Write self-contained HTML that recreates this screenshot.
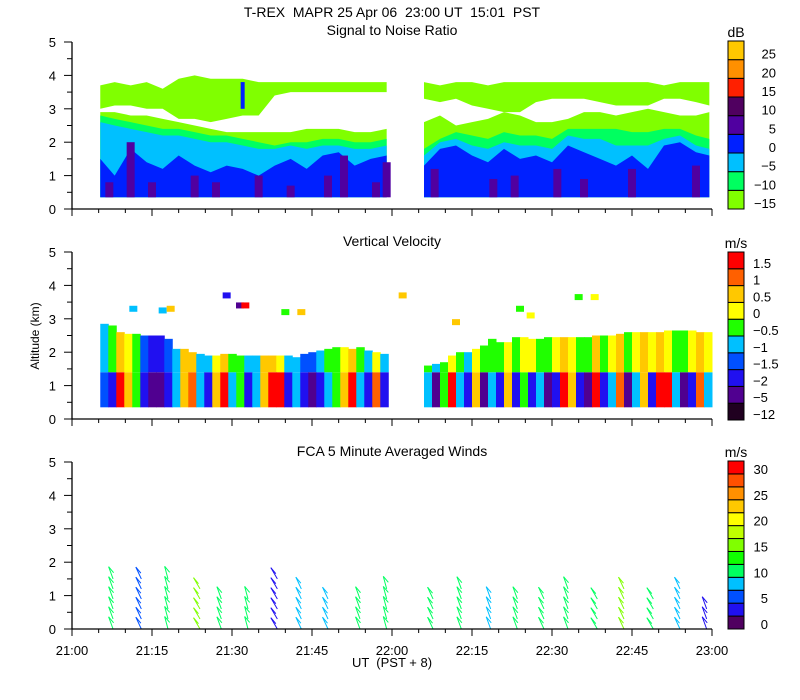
<!DOCTYPE html>
<html><head><meta charset="utf-8"><style>
html,body{margin:0;padding:0;background:#fff;}
svg{display:block;font-family:"Liberation Sans",sans-serif;}
text{fill:#000;white-space:pre;}
</style></head><body>
<svg id="chart" width="800" height="700" viewBox="0 0 800 700" xmlns="http://www.w3.org/2000/svg">
<rect width="800" height="700" fill="#fff"/>
<text x="392" y="17" font-size="14" text-anchor="middle" xml:space="preserve">T-REX  MAPR 25 Apr 06  23:00 UT  15:01  PST</text>
<text x="392" y="35" font-size="14" text-anchor="middle">Signal to Noise Ratio</text>
<text x="392" y="246" font-size="14" text-anchor="middle">Vertical Velocity</text>
<text x="392" y="456" font-size="14" text-anchor="middle">FCA 5 Minute Averaged Winds</text>
<text x="0" y="0" font-size="12" text-anchor="middle" transform="translate(39,336) rotate(-90)">Altitude (km)</text>
<text x="392" y="667" font-size="13" text-anchor="middle" xml:space="preserve">UT  (PST + 8)</text>
<g id="snr"></g>
<g id="vel"></g>
<g id="wind"></g>
<g id="axes"></g>
<g id="cbars"></g>
</svg>
<script>
// ---- SNR data (minutes after 21:00, altitudes in km) ----
const snrTimesL = [5.3,8,11,14,17,20,23,26,29,32,35,38,41,44,47,50,53,56,59];
const snrBlueL  = [1.5,1.0,1.8,1.4,1.2,1.6,1.3,1.1,1.3,1.2,1.0,1.3,1.5,1.2,1.6,1.7,1.3,1.5,1.6];
const snrCyanL  = [2.6,2.5,2.4,2.3,2.2,2.2,2.1,2.0,2.0,1.9,1.8,1.8,1.9,1.8,1.9,1.9,1.8,1.8,1.9];
const snrGreenL = [2.8,2.7,2.6,2.5,2.4,2.4,2.3,2.2,2.2,2.1,2.0,1.9,2.0,2.0,2.1,2.1,2.0,2.0,2.1];
const snrLgL    = [2.9,2.9,2.8,2.8,2.7,2.6,2.5,2.4,2.3,2.3,2.3,2.3,2.3,2.4,2.4,2.4,2.3,2.3,2.4];
const snrCloudBotL = [3.0,3.1,3.1,3.0,3.0,2.7,2.7,2.6,2.7,2.8,2.8,3.4,3.5,3.5,3.5,3.5,3.5,3.5,3.5];
const snrCloudTopL = [3.7,3.8,3.7,3.8,3.6,3.9,4.0,3.9,3.9,3.9,3.8,3.8,3.8,3.8,3.8,3.8,3.8,3.8,3.8];
const snrTimesR = [66,69,72,75,78,81,84,87,90,93,96,99,102,105,108,111,114,117,119.5];
const snrBlueR  = [1.3,1.8,1.9,1.6,1.4,1.8,1.5,1.6,1.4,1.9,1.7,1.5,1.3,1.6,1.2,1.9,2.0,1.7,1.6];
const snrCyanR  = [1.6,2.0,2.1,1.9,1.8,2.0,1.9,1.9,1.8,2.2,2.1,2.1,1.9,1.9,1.9,2.1,2.2,1.9,1.8];
const snrGreenR = [1.8,2.1,2.3,2.2,2.1,2.3,2.2,2.2,2.1,2.4,2.4,2.4,2.4,2.3,2.3,2.4,2.4,2.2,2.1];
const snrLgR    = [2.6,2.8,2.5,2.6,2.7,2.9,2.8,2.6,2.6,2.7,2.9,2.9,2.8,2.9,3.0,2.9,2.8,2.8,2.9];
const snrCloudBotR = [3.3,3.2,3.3,3.1,3.0,2.9,2.9,3.2,3.3,3.3,3.3,3.2,3.1,3.1,3.1,3.3,3.3,3.2,3.1];
const snrCloudTopR = [3.8,3.7,3.8,3.8,3.7,3.8,3.8,3.8,3.8,3.8,3.8,3.8,3.8,3.8,3.8,3.7,3.8,3.8,3.8];
const snrPurpleTimes = [7,11,15,23,27,35,41,48,51,57,59,68,79,83,91,96,105,117];
const snrPurpleTops  = [0.8,2.0,0.8,1.0,0.8,1.0,0.7,1.0,1.6,0.8,1.4,1.2,0.9,1.0,1.2,0.9,1.2,1.3];
const snrBase = 0.35;

// ---- Vertical velocity data (class index 0..9, 1.5-min columns) ----
const velStartL = 5.3, velStartR = 66, velStep = 1.5;
const velLowL = [3,2,9,7,5,2,1,1,2,4,7,8,4,2,7,9,4,5,2,4,7,9,9,2,4,2,1,2,4,5,7,9,4,2,8,2];
const velUpL  = [4,5,7,6,5,3,2,2,3,4,7,7,4,4,6,7,5,5,4,4,7,7,6,4,4,3,3,4,5,5,6,7,5,4,6,4];
const velTopL = [2.85,2.8,2.6,2.55,2.55,2.5,2.5,2.5,2.4,2.1,2.1,2.0,1.95,1.9,1.9,1.95,1.95,1.9,1.9,1.9,1.9,1.9,1.9,1.9,1.85,1.95,2.0,2.05,2.1,2.15,2.15,2.1,2.15,2.05,2.0,1.95];
const velLowR = [4,1,5,9,4,2,7,1,4,2,7,2,5,2,4,1,2,9,7,2,1,9,2,4,8,1,4,7,2,9,9,4,1,2,8,4];
const velUpR  = [5,4,5,6,5,4,6,5,5,5,6,5,6,6,5,5,6,7,6,5,5,7,5,6,7,5,6,7,6,7,6,5,5,6,7,6];
const velTopR = [1.6,1.65,1.7,1.9,2.0,2.0,2.1,2.2,2.4,2.3,2.3,2.45,2.45,2.4,2.4,2.45,2.45,2.45,2.45,2.45,2.45,2.5,2.5,2.5,2.55,2.6,2.6,2.6,2.6,2.6,2.65,2.65,2.65,2.65,2.6,2.6];
const velPatchT = [11.5,17,18.5,29,31.5,32.5,40,43,62,72,84,86,95,98];
const velPatchA = [3.3,3.25,3.3,3.7,3.4,3.4,3.2,3.2,3.7,2.9,3.3,3.1,3.65,3.65];
const velPatchC = [4,4,7,2,1,9,5,7,7,7,5,6,5,6];

// ---- Winds data ----
const windTimes = [7.7,13,18,24,28,33,38.5,43,48,54,59,67.7,73,78.5,83.5,88.5,93,98.5,103.5,109,114,119];
const windTop   = [2.0,2.0,1.8,1.6,1.4,1.4,1.8,1.6,1.4,1.4,1.6,1.4,1.6,1.4,1.4,1.4,1.6,1.4,1.7,1.4,1.6,0.9];
const windSpeed = [11,7,11,15,12,11,4,8,9,12,11,10,12,9,12,10,11,12,15,11,8,3];
const windDir   = [-20,-25,-15,-30,-20,-15,-30,-25,-25,-20,-15,-25,-20,-20,-20,-25,-20,-30,-25,-30,-25,-20];

const snrColors = ["#80ff00","#00ff60","#00c0ff","#0020ff","#5000a0","#500060","#ff2000","#ff9000","#ffc800"];
const snrLabels = ["-15","-10","-5","0","5","10","15","20","25"];
const velColors = ["#200020","#500090","#2010f0","#0050ff","#00c0ff","#20ff00","#ffff00","#ffc800","#ff6000","#ff0000"];
const velLabels = ["-12","-5","-2","-1.5","-1","-0.5","0","0.5","1","1.5"];
const windColors = ["#500060","#2010f0","#0050ff","#00c0ff","#00ff60","#10ff00","#80ff00","#c0ff00","#ffff00","#ffc800","#ff9000","#ff5000","#ff0000"];
const windLabels = ["0","5","10","15","20","25","30"];
const xTickLabels = ["21:00","21:15","21:30","21:45","22:00","22:15","22:30","22:45","23:00"];
const yTickLabels = ["0","1","2","3","4","5"];

const NS = "http://www.w3.org/2000/svg";
const X0 = 72, PXMIN = 640/120, PXKM = 33.4;
const bases = [209, 419, 629];
function xT(m){ return X0 + m*PXMIN; }
function yA(p,a){ return bases[p] - a*PXKM; }
function mk(tag, attrs, parent){ const e=document.createElementNS(NS,tag); for(const k in attrs) e.setAttribute(k,attrs[k]); parent.appendChild(e); return e; }

// SNR bands
const snrG = document.getElementById('snr');
function band(times, bot, top, color, name){
  let pts=[];
  for(let i=0;i<times.length;i++) pts.push(xT(times[i])+','+yA(0, typeof bot==='number'?bot:bot[i]));
  for(let i=times.length-1;i>=0;i--) pts.push(xT(times[i])+','+yA(0, top[i]));
  const p = mk('polygon',{points:pts.join(' '),fill:color},snrG);
  
  
}
[[snrTimesL,snrBlueL,snrCyanL,snrGreenL,snrLgL,snrCloudBotL,snrCloudTopL,'left'],[snrTimesR,snrBlueR,snrCyanR,snrGreenR,snrLgR,snrCloudBotR,snrCloudTopR,'right']].forEach(s=>{
  band(s[0], snrBase, s[4], snrColors[0], 'snr-band-minus15-'+s[7]);
  band(s[0], snrBase, s[3], snrColors[1], 'snr-band-minus10-'+s[7]);
  band(s[0], snrBase, s[2], snrColors[2], 'snr-band-minus5-'+s[7]);
  band(s[0], snrBase, s[1], snrColors[3], 'snr-band-0-'+s[7]);
  band(s[0], s[5], s[6], snrColors[0], 'snr-cloud-layer-'+s[7]);
});
snrPurpleTimes.forEach((t,i)=>{
  const r = mk('rect',{x:xT(t)-4,y:yA(0,snrPurpleTops[i]),width:8,height:(snrPurpleTops[i]-snrBase)*PXKM,fill:snrColors[4]},snrG);
  
  
});
{
  const r = mk('rect',{x:xT(32)-2,y:yA(0,3.8),width:4,height:0.8*PXKM,fill:snrColors[3]},snrG);
  
  
}

// Velocity columns
const velG = document.getElementById('vel');
function velSeg(start, low, up, top, side){
  for(let i=0;i<low.length;i++){
    const t=start+i*velStep, x=xT(t), w=velStep*PXMIN+0.5;
    const mid=Math.min(1.4, top[i]);
    const r1 = mk('rect',{x:x,y:yA(1,mid),width:w,height:(mid-snrBase)*PXKM,fill:velColors[low[i]]},velG);
    
    
    const r2 = mk('rect',{x:x,y:yA(1,top[i]),width:w,height:(top[i]-mid)*PXKM,fill:velColors[up[i]]},velG);
    
    
  }
}
velSeg(velStartL, velLowL, velUpL, velTopL, 'left');
velSeg(velStartR, velLowR, velUpR, velTopR, 'right');
velPatchT.forEach((t,i)=>{
  const r = mk('rect',{x:xT(t)-4,y:yA(1,velPatchA[i])-3,width:8,height:6,fill:velColors[velPatchC[i]]},velG);
  
  
});

// Wind barbs
const windG = document.getElementById('wind');
function windColor(s){ return windColors[Math.max(0,Math.min(12,Math.floor(s/2.5)))]; }
windTimes.forEach((t,i)=>{
  const c = windColor(windSpeed[i]);
  for(let a=0.0; a<=windTop[i]-0.3; a+=0.3){
    const x=xT(t), y=yA(2,a);
    const ang = windDir[i]*Math.PI/180;
    const x2 = x+Math.sin(ang)*13, y2 = y-Math.cos(ang)*13;
    const l = mk('line',{x1:x,y1:y,x2:x2,y2:y2,stroke:c,'stroke-width':1},windG);
    
    
    const f = mk('line',{x1:x2,y1:y2,x2:x2+5,y2:y2+6,stroke:c,'stroke-width':1},windG);
    
    
  }
});

// Axes
const ax = document.getElementById('axes');
[0,1,2].forEach(p=>{
  mk('line',{x1:X0,y1:yA(p,5),x2:X0,y2:yA(p,0),stroke:'#000','stroke-width':1.3},ax);
  mk('line',{x1:X0,y1:yA(p,0),x2:712,y2:yA(p,0),stroke:'#000','stroke-width':1.3},ax);
  for(let k=0;k<=10;k++){
    const y=yA(p,k/2);
    mk('line',{x1:k%2?67:64,y1:y,x2:X0,y2:y,stroke:'#000'},ax);
  }
  yTickLabels.forEach((lab,k)=>{
    const t = mk('text',{x:56,y:yA(p,k)+5,'font-size':13,'text-anchor':'end'},ax);
    t.textContent=lab;
    
    
  });
  for(let m=0;m<=120;m+=5){
    const x=xT(m), y=yA(p,0);
    mk('line',{x1:x,y1:y,x2:x,y2:y+(m%15?4:7),stroke:'#000'},ax);
  }
});
xTickLabels.forEach((lab,k)=>{
  const t = mk('text',{x:xT(k*15),y:655,'font-size':13,'text-anchor':'middle'},ax);
  t.textContent=lab;
  
  
});

// Colorbars
const cb = document.getElementById('cbars');
function cbar(colors, top, bot, name, unit, unitY){
  const h=(bot-top)/colors.length;
  colors.forEach((c,i)=>{
    const r = mk('rect',{x:728,y:bot-(i+1)*h,width:16,height:h,fill:c,stroke:'#000','stroke-width':1},cb);
    
    
  });
  const u = mk('text',{x:736,y:unitY,'font-size':14,'text-anchor':'middle'},cb);
  u.textContent=unit;
  
  
  return h;
}
let h1 = cbar(snrColors, 41, 209, 'snr-colorbar', 'dB', 37);
snrLabels.forEach((l,i)=>{
  const t = mk('text',{x:776,y:209-i*h1-1,'font-size':13,'text-anchor':'end'},cb);
  t.textContent=l.replace('-','\u2212');
  
  
});
let h2 = cbar(velColors, 252, 420, 'velocity-colorbar', 'm/s', 248);
velLabels.forEach((l,i)=>{
  const t = mk('text',{x:753,y:420-i*h2-1,'font-size':13},cb);
  t.textContent=l.replace('-','\u2212');
  
  
});
let h3 = cbar(windColors, 461, 629, 'wind-colorbar', 'm/s', 457);
windLabels.forEach((l,i)=>{
  const t = mk('text',{x:768,y:629-i*2*h3,'font-size':13,'text-anchor':'end'},cb);
  t.textContent=l;
  
  
});
</script>
</body></html>
